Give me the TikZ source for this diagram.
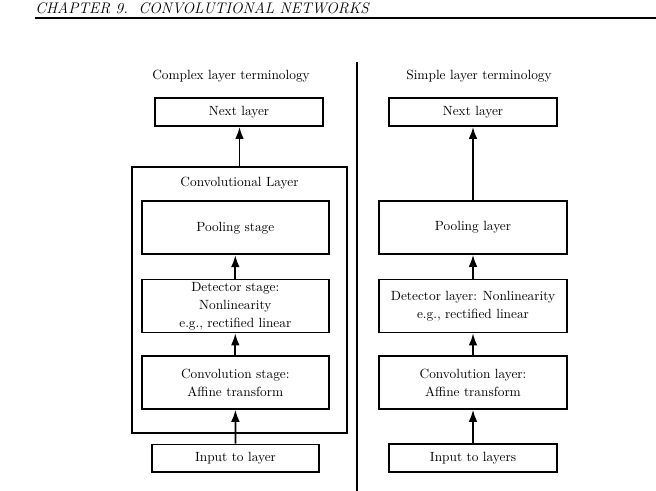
\documentclass[tikz,border=0pt]{standalone}
\usepackage{tikz}
\usetikzlibrary{calc, positioning, arrows.meta}

\begin{document}
\begin{tikzpicture}
      [x=0.75pt, y=-0.75pt, text centered,
       font=\fontsize{10}{13.5}\selectfont,
       layerbox/.style={draw, rectangle, line width=1.3pt, align=center, inner sep=0pt},
       small/.style={layerbox, minimum width=125.6pt, minimum height=20.8pt},
       big/.style={layerbox, minimum width=140.5pt, minimum height=39.8pt},
       flow/.style={-{Latex[length=9pt,width=6.5pt]}, line width=1.3pt}]
      \useasboundingbox (0,0) rectangle (656,491);

      % header
      \node[anchor=base west, inner sep=0pt, font=\fontsize{11.5}{13}\selectfont\itshape] (head) at (35,14) {CHAPTER 9.\ \ CONVOLUTIONAL NETWORKS};
      \draw[line width=0.9pt] (35,18) -- (656,18);

      % divider
      \draw[line width=1.3pt] (357.3,62) -- (357.3,491);

      %nodes left
      \node (titleL) at (231,76) {Complex layer terminology};
      \node[small] (nextL) at (239,112.2) {Next layer};
      \node[layerbox, minimum width=160.8pt, minimum height=199.5pt] (convlayer) at (239.5,299.7) {};
      \node (convlabel) at (239.5,183) {Convolutional Layer};
      \node[big] (poolS) at (235.3,227.8) {Pooling stage};
      \node[big] (detS) at (235.3,306) {Detector stage:\\Nonlinearity\\e.g., rectified linear};
      \node[big] (convS) at (235.3,382.4) {Convolution stage:\\Affine transform};
      \node[small] (inL) at (235.5,458.3) {Input to layer};

      %nodes right
      \node (titleR) at (479,76) {Simple layer terminology};
      \node[small] (nextR) at (473,112.2) {Next layer};
      \node[big] (poolL) at (473,227.4) {Pooling layer};
      \node[big] (detL) at (473,306) {Detector layer: Nonlinearity\\e.g., rectified linear};
      \node[big] (convL) at (473,382.4) {Convolution layer:\\Affine transform};
      \node[small] (inR) at (473,458) {Input to layers};

      % edges %
      \draw[flow] (inL) -- (convS);
      \draw[flow] (convS) -- (detS);
      \draw[flow] (detS) -- (poolS);
      \draw[flow] (convlayer.north) -- (convlayer.north |- nextL.south);

      \draw[flow] (inR) -- (convL);
      \draw[flow] (convL) -- (detL);
      \draw[flow] (detL) -- (poolL);
      \draw[flow] (poolL) -- (nextR);
\end{tikzpicture}
\end{document}
